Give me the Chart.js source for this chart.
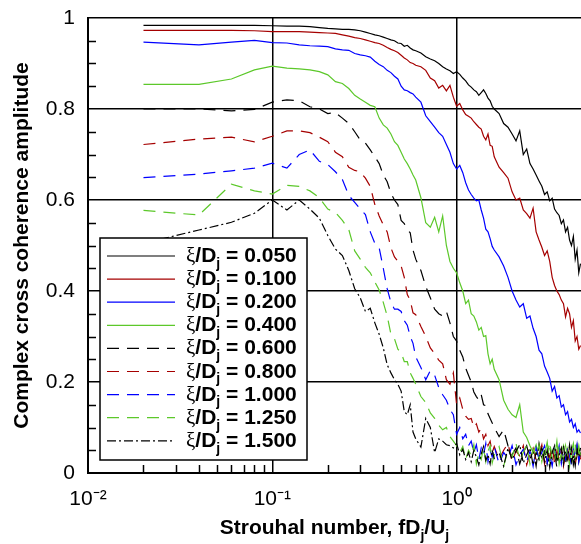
<!DOCTYPE html>
<html>
<head>
<meta charset="utf-8">
<script src="https://cdn.jsdelivr.net/npm/chart.js@4.4.1/dist/chart.umd.min.js"></script>
<style>
    html, body { margin: 0; padding: 0; background: #fff; overflow: hidden; }
    #quadro { width: 581px; height: 544px; }
</style>
</head>
<body>
<div id="quadro"><canvas id="grafico" width="581" height="544"></canvas></div>
<script>
// Numero de Strouhal (eixo x)
const strouhal = [
    0.02, 0.04, 0.06, 0.08, 0.10, 0.12, 0.14, 0.16, 0.18, 0.20,
    0.22, 0.24, 0.26, 0.28, 0.30, 0.32, 0.34, 0.36, 0.38, 0.40,
    0.42, 0.44, 0.46, 0.48, 0.50, 0.52, 0.54, 0.56, 0.58, 0.60,
    0.64, 0.68, 0.72, 0.76, 0.80, 0.84, 0.88, 0.92, 0.96, 1.00,
    1.04, 1.08, 1.12, 1.16, 1.20, 1.24, 1.28, 1.32, 1.36, 1.40,
    1.44, 1.48, 1.52, 1.56, 1.60,
    1.7, 1.8, 1.9, 2.0, 2.1, 2.2, 2.3, 2.4, 2.5, 2.6,
    2.7, 2.8, 2.9, 3.0, 3.1, 3.2, 3.3, 3.4, 3.5, 3.6,
    3.7, 3.8, 3.9, 4.0, 4.1, 4.2, 4.3, 4.4, 4.5, 4.6,
    4.7
];

// Coerencia por separacao xi/Dj
const s050 = [
    0.984, 0.984, 0.984, 0.984, 0.983, 0.982, 0.982, 0.981, 0.979, 0.977,
    0.976, 0.975, 0.975, 0.974, 0.972, 0.969, 0.966, 0.963, 0.961, 0.958,
    0.955, 0.952, 0.950, 0.945, 0.944, 0.938, 0.940, 0.934, 0.930, 0.928,
    0.923, 0.915, 0.910, 0.906, 0.900, 0.893, 0.888, 0.884, 0.878, 0.882,
    0.876, 0.868, 0.862, 0.853, 0.848, 0.842, 0.838, 0.830, 0.836, 0.842,
    0.834, 0.824, 0.818, 0.806, 0.800,
    0.790, 0.768, 0.760, 0.745, 0.730, 0.752, 0.700, 0.712, 0.680, 0.668,
    0.655, 0.642, 0.630, 0.612, 0.618, 0.598, 0.604, 0.580, 0.572, 0.566,
    0.548, 0.556, 0.530, 0.540, 0.512, 0.500, 0.520, 0.470, 0.490, 0.440,
    0.460
];
const s100 = [
    0.973, 0.973, 0.973, 0.972, 0.970, 0.970, 0.970, 0.969, 0.968, 0.967,
    0.966, 0.963, 0.960, 0.957, 0.955, 0.952, 0.949, 0.946, 0.944, 0.940,
    0.935, 0.931, 0.928, 0.924, 0.918, 0.912, 0.908, 0.902, 0.900, 0.896,
    0.893, 0.885, 0.868, 0.862, 0.846, 0.852, 0.840, 0.852, 0.826, 0.806,
    0.812, 0.798, 0.788, 0.784, 0.780, 0.772, 0.766, 0.760, 0.756, 0.740,
    0.732, 0.745, 0.720, 0.718, 0.695,
    0.672, 0.660, 0.648, 0.618, 0.600, 0.604, 0.578, 0.570, 0.560, 0.582,
    0.530, 0.512, 0.496, 0.478, 0.488, 0.465, 0.430, 0.412, 0.400, 0.392,
    0.380, 0.372, 0.343, 0.362, 0.350, 0.320, 0.335, 0.290, 0.300, 0.272,
    0.280
];
const s200 = [
    0.947, 0.941, 0.947, 0.951, 0.946, 0.945, 0.941, 0.939, 0.938, 0.937,
    0.932, 0.930, 0.929, 0.922, 0.919, 0.917, 0.914, 0.905, 0.898, 0.893,
    0.885, 0.880, 0.872, 0.866, 0.850, 0.842, 0.840, 0.836, 0.833, 0.826,
    0.815, 0.785, 0.772, 0.760, 0.748, 0.740, 0.722, 0.705, 0.680, 0.668,
    0.676, 0.660, 0.638, 0.622, 0.612, 0.604, 0.598, 0.600, 0.578, 0.560,
    0.536, 0.530, 0.515, 0.498, 0.490,
    0.475, 0.455, 0.430, 0.400, 0.380, 0.365, 0.372, 0.340, 0.345, 0.318,
    0.300, 0.270, 0.262, 0.235, 0.222, 0.208, 0.180, 0.190, 0.165, 0.170,
    0.145, 0.150, 0.128, 0.135, 0.112, 0.118, 0.100, 0.108, 0.090, 0.095,
    0.088
];
const s400 = [
    0.854, 0.854, 0.866, 0.886, 0.894, 0.890, 0.888, 0.886, 0.882, 0.875,
    0.860, 0.856, 0.845, 0.830, 0.822, 0.815, 0.808, 0.805, 0.780, 0.765,
    0.758, 0.745, 0.728, 0.720, 0.705, 0.690, 0.680, 0.668, 0.655, 0.644,
    0.605, 0.550, 0.540, 0.562, 0.530, 0.565, 0.500, 0.465, 0.450, 0.440,
    0.418, 0.400, 0.372, 0.380, 0.350, 0.345, 0.332, 0.314, 0.320, 0.300,
    0.302, 0.262, 0.240, 0.250, 0.228,
    0.205, 0.160, 0.140, 0.128, 0.122, 0.150, 0.090, 0.078, 0.060, 0.045,
    0.062, 0.030, 0.055, 0.040, 0.068, 0.025, 0.050, 0.035, 0.070, 0.020,
    0.045, 0.060, 0.030, 0.052, 0.015, 0.048, 0.065, 0.028, 0.042, 0.060,
    0.035
];
const s600 = [
    0.800, 0.800, 0.796, 0.799, 0.815, 0.820, 0.818, 0.805, 0.800, 0.790,
    0.792, 0.780, 0.768, 0.750, 0.732, 0.725, 0.710, 0.695, 0.680, 0.655,
    0.640, 0.615, 0.600, 0.590, 0.555, 0.548, 0.535, 0.528, 0.490, 0.470,
    0.445, 0.410, 0.385, 0.360, 0.350, 0.345, 0.355, 0.330, 0.300, 0.290,
    0.270, 0.255, 0.230, 0.215, 0.200, 0.178, 0.168, 0.160, 0.172, 0.150,
    0.148, 0.130, 0.120, 0.110, 0.100,
    0.080, 0.095, 0.060, 0.040, 0.055, 0.020, 0.045, 0.060, 0.030, 0.050,
    0.015, 0.065, 0.035, 0.048, 0.020, 0.058, 0.030, 0.044, 0.012, 0.050,
    0.025, 0.062, 0.020, 0.045, 0.030, 0.055, 0.018, 0.040, 0.060, 0.025,
    0.045
];
const s800 = [
    0.722, 0.734, 0.738, 0.728, 0.740, 0.752, 0.752, 0.748, 0.738, 0.728,
    0.705, 0.695, 0.672, 0.665, 0.662, 0.648, 0.630, 0.590, 0.565, 0.545,
    0.530, 0.495, 0.475, 0.465, 0.455, 0.430, 0.392, 0.380, 0.352, 0.348,
    0.322, 0.300, 0.275, 0.262, 0.248, 0.240, 0.205, 0.195, 0.220, 0.150,
    0.165, 0.140, 0.125, 0.118, 0.120, 0.100, 0.108, 0.090, 0.098, 0.075,
    0.085, 0.060, 0.070, 0.045, 0.058,
    0.030, 0.050, 0.065, 0.025, 0.048, 0.038, 0.060, 0.018, 0.042, 0.055,
    0.028, 0.040, 0.062, 0.020, 0.045, 0.035, 0.058, 0.022, 0.048, 0.030,
    0.052, 0.015, 0.040, 0.055, 0.025, 0.042, 0.050, 0.020, 0.038, 0.052,
    0.030
];
const s1000 = [
    0.649, 0.657, 0.664, 0.670, 0.681, 0.670, 0.700, 0.710, 0.685, 0.678,
    0.662, 0.645, 0.610, 0.595, 0.580, 0.568, 0.530, 0.505, 0.495, 0.450,
    0.405, 0.375, 0.360, 0.360, 0.355, 0.335, 0.325, 0.300, 0.285, 0.255,
    0.232, 0.205, 0.225, 0.215, 0.188, 0.172, 0.160, 0.140, 0.128, 0.085,
    0.100, 0.075, 0.085, 0.060, 0.070, 0.045, 0.062, 0.030, 0.055, 0.040,
    0.065, 0.025, 0.050, 0.035, 0.058,
    0.020, 0.045, 0.032, 0.060, 0.018, 0.040, 0.052, 0.025, 0.048, 0.015,
    0.055, 0.030, 0.045, 0.060, 0.022, 0.040, 0.015, 0.052, 0.035, 0.060,
    0.020, 0.045, 0.030, 0.058, 0.038, 0.018, 0.050, 0.032, 0.062, 0.025,
    0.048
];
const s1250 = [
    0.577, 0.567, 0.635, 0.620, 0.613, 0.632, 0.630, 0.620, 0.605, 0.580,
    0.573, 0.555, 0.535, 0.488, 0.470, 0.452, 0.440, 0.420, 0.402, 0.375,
    0.345, 0.305, 0.295, 0.272, 0.265, 0.245, 0.245, 0.220, 0.208, 0.195,
    0.168, 0.155, 0.132, 0.120, 0.105, 0.095, 0.100, 0.080, 0.070, 0.060,
    0.045, 0.058, 0.030, 0.050, 0.038, 0.062, 0.020, 0.045, 0.030, 0.055,
    0.025, 0.048, 0.060, 0.022, 0.040,
    0.058, 0.015, 0.050, 0.035, 0.065, 0.028, 0.045, 0.060, 0.020, 0.052,
    0.038, 0.062, 0.025, 0.055, 0.040, 0.068, 0.030, 0.050, 0.022, 0.058,
    0.042, 0.028, 0.060, 0.035, 0.055, 0.020, 0.045, 0.065, 0.030, 0.050,
    0.040
];
const s1500 = [
    0.505, 0.534, 0.551, 0.571, 0.600, 0.578, 0.600, 0.580, 0.560, 0.522,
    0.492, 0.478, 0.445, 0.405, 0.385, 0.355, 0.362, 0.330, 0.305, 0.275,
    0.238, 0.220, 0.205, 0.195, 0.180, 0.135, 0.128, 0.150, 0.090, 0.075,
    0.057, 0.120, 0.100, 0.045, 0.075, 0.070, 0.062, 0.060, 0.055, 0.065,
    0.040, 0.052, 0.030, 0.045, 0.025, 0.050, 0.035, 0.018, 0.042, 0.058,
    0.028, 0.040, 0.020, 0.050, 0.032,
    0.045, 0.015, 0.055, 0.030, 0.048, 0.062, 0.022, 0.040, 0.055, 0.018,
    0.045, 0.030, 0.058, 0.025, 0.050, 0.012, 0.045, 0.060, 0.028, 0.040,
    0.055, 0.020, 0.048, 0.030, 0.062, 0.025, 0.040, 0.015, 0.050, 0.035,
    0.055
];

// Rotulos da legenda (xi/Dj)
const separacoes = ['0.050', '0.100', '0.200', '0.400', '0.600', '0.800', '1.000', '1.250', '1.500'];

// Ticks dos eixos
const ticksX = [0.01, 0.02, 0.03, 0.04, 0.05, 0.06, 0.07, 0.08, 0.09,
                0.1, 0.2, 0.3, 0.4, 0.5, 0.6, 0.7, 0.8, 0.9,
                1, 2, 3, 4];
const ticksXMaiores = [0.01, 0.1, 1];
const rotulosX = ['10\u207B\u00B2', '10\u207B\u00B9', '10\u2070'];
const ticksY = [0, 0.05, 0.1, 0.15, 0.2, 0.25, 0.3, 0.35, 0.4, 0.45, 0.5,
                0.55, 0.6, 0.65, 0.7, 0.75, 0.8, 0.85, 0.9, 0.95, 1];
const ticksYMaiores = [0, 0.2, 0.4, 0.6, 0.8, 1];
const rotulosY = ['0', '0.2', '0.4', '0.6', '0.8', '1'];

const FONTE = '"Liberation Sans", Arial, Helvetica, sans-serif';
const FONTE_GREGA = '"Liberation Serif", "DejaVu Serif", serif';
const TAM = 21;

const estilos = [
    { cor: '#000000', traco: [] },
    { cor: '#a50000', traco: [] },
    { cor: '#0000ff', traco: [] },
    { cor: '#5cc82a', traco: [] },
    { cor: '#000000', traco: [12, 8] },
    { cor: '#a50000', traco: [12, 8] },
    { cor: '#0000ff', traco: [12, 8] },
    { cor: '#5cc82a', traco: [12, 8] },
    { cor: '#000000', traco: [9, 3, 2, 3] }
];
const todasSeries = [s050, s100, s200, s400, s600, s800, s1000, s1250, s1500];

function indiceEm(lista, v) {
    return lista.findIndex(m => Math.abs(m - v) < 1e-9);
}

// Texto com subscritos (ex.: D_j)
function fontePara(p, tam) {
    const t = p.sub ? Math.round(tam * 0.68) : tam;
    const peso = p.normal ? '' : 'bold ';
    return peso + t + 'px ' + (p.grega ? FONTE_GREGA : FONTE);
}

function textoComIndices(ctx, partes, x, y, tam, alinhar) {
    let largura = 0;
    partes.forEach(p => { ctx.font = fontePara(p, tam); largura += ctx.measureText(p.t).width; });
    let cx = alinhar === 'center' ? x - largura / 2 : x;
    ctx.textAlign = 'left';
    ctx.textBaseline = 'alphabetic';
    partes.forEach(p => {
        ctx.font = fontePara(p, tam);
        ctx.fillText(p.t, cx, y + (p.sub ? tam * 0.28 : 0));
        cx += ctx.measureText(p.t).width;
    });
}

// Marcas menores para dentro do grafico
const marcasMenores = {
    id: 'marcasMenores',
    afterDatasetsDraw(chart) {
        const { ctx, chartArea, scales } = chart;
        ctx.save();
        ctx.strokeStyle = '#000';
        ctx.lineWidth = 1.5;
        ctx.beginPath();
        ticksX.forEach(v => {
            if (indiceEm(ticksXMaiores, v) >= 0) return;
            const px = Math.round(scales.x.getPixelForValue(v)) + 0.5;
            ctx.moveTo(px, chartArea.bottom);
            ctx.lineTo(px, chartArea.bottom - 8);
        });
        ticksY.forEach(v => {
            if (indiceEm(ticksYMaiores, v) >= 0) return;
            const py = Math.round(scales.y.getPixelForValue(v)) + 0.5;
            ctx.moveTo(chartArea.left, py);
            ctx.lineTo(chartArea.left + 8, py);
        });
        ctx.stroke();
        ctx.restore();
    }
};

// Legenda com caixa dentro da area do grafico
const legendaCaixa = {
    id: 'legendaCaixa',
    afterDatasetsDraw(chart) {
        const { ctx, chartArea } = chart;
        const x0 = chartArea.left + 12;
        const y0 = 238;
        const larg = 207;
        const alt = 222;
        ctx.save();
        ctx.fillStyle = '#fff';
        ctx.fillRect(x0, y0, larg, alt);
        ctx.strokeStyle = '#000';
        ctx.lineWidth = 1.5;
        ctx.strokeRect(x0, y0, larg, alt);
        chart.data.datasets.forEach((ds, i) => {
            const yl = y0 + 18 + i * 23.1;
            ctx.strokeStyle = ds.borderColor;
            ctx.lineWidth = 1.2;
            ctx.setLineDash(ds.borderDash);
            ctx.beginPath();
            ctx.moveTo(x0 + 7, yl);
            ctx.lineTo(x0 + 75, yl);
            ctx.stroke();
            ctx.setLineDash([]);
            ctx.fillStyle = '#000';
            textoComIndices(ctx, [
                { t: '\u03BE', grega: true, normal: true },
                { t: '/D' },
                { t: 'j', sub: true },
                { t: ' = ' + separacoes[i] }
            ], x0 + 86, yl + 6, TAM, 'left');
        });
        ctx.restore();
    }
};

// Titulos dos eixos
const titulosEixos = {
    id: 'titulosEixos',
    afterDraw(chart) {
        const { ctx, chartArea } = chart;
        ctx.save();
        ctx.fillStyle = '#000';
        textoComIndices(ctx, [
            { t: 'Strouhal number, fD' }, { t: 'j', sub: true },
            { t: '/U' }, { t: 'j', sub: true }
        ], (chartArea.left + chartArea.right) / 2, 534, TAM, 'center');
        ctx.translate(28, (chartArea.top + chartArea.bottom) / 2);
        ctx.rotate(-Math.PI / 2);
        textoComIndices(ctx, [{ t: 'Complex cross coherence amplitude' }], 0, 0, TAM, 'center');
        ctx.restore();
    }
};

const datasets = todasSeries.map((dados, i) => ({
    label: '\u03BE/Dj = ' + separacoes[i],
    data: strouhal.map((st, k) => ({ x: st, y: dados[k] })),
    borderColor: estilos[i].cor,
    borderDash: estilos[i].traco,
    borderWidth: 1.2,
    pointRadius: 0,
    tension: 0,
    fill: false,
    order: todasSeries.length - i
}));

new Chart(document.getElementById('grafico'), {
    type: 'line',
    data: { datasets: datasets },
    options: {
        responsive: false,
        animation: false,
        events: [],
        layout: { padding: { top: 18, right: 0, bottom: 0, left: 0 } },
        plugins: { legend: { display: false }, tooltip: { enabled: false } },
        scales: {
            x: {
                type: 'logarithmic',
                min: 0.01,
                max: 4.73,
                afterBuildTicks: (eixo) => { eixo.ticks = ticksX.map(v => ({ value: v })); },
                afterFit: (eixo) => {
                    eixo.height = 71;
                    eixo.paddingLeft = 0;
                    eixo.paddingRight = 0;
                },
                grid: {
                    color: (c) => (c.tick && indiceEm(ticksXMaiores, c.tick.value) >= 0) ? '#000' : 'rgba(0,0,0,0)',
                    lineWidth: 1.5,
                    drawTicks: false
                },
                border: { color: '#000', width: 2 },
                ticks: {
                    autoSkip: false,
                    maxRotation: 0,
                    padding: 14,
                    color: '#000',
                    font: { family: FONTE, size: TAM },
                    callback: (v) => {
                        const k = indiceEm(ticksXMaiores, v);
                        return k >= 0 ? rotulosX[k] : '';
                    }
                }
            },
            y: {
                min: 0,
                max: 1,
                afterBuildTicks: (eixo) => { eixo.ticks = ticksY.map(v => ({ value: v })); },
                afterFit: (eixo) => {
                    eixo.width = 88;
                    eixo.paddingTop = 0;
                    eixo.paddingBottom = 0;
                },
                grid: {
                    color: (c) => (c.tick && indiceEm(ticksYMaiores, c.tick.value) >= 0) ? '#000' : 'rgba(0,0,0,0)',
                    lineWidth: 1.5,
                    drawTicks: false
                },
                border: { color: '#000', width: 2 },
                ticks: {
                    autoSkip: false,
                    padding: 13,
                    color: '#000',
                    font: { family: FONTE, size: TAM },
                    callback: (v) => {
                        const k = indiceEm(ticksYMaiores, v);
                        return k >= 0 ? rotulosY[k] : '';
                    }
                }
            }
        }
    },
    plugins: [marcasMenores, legendaCaixa, titulosEixos]
});
</script>
</body>
</html>
